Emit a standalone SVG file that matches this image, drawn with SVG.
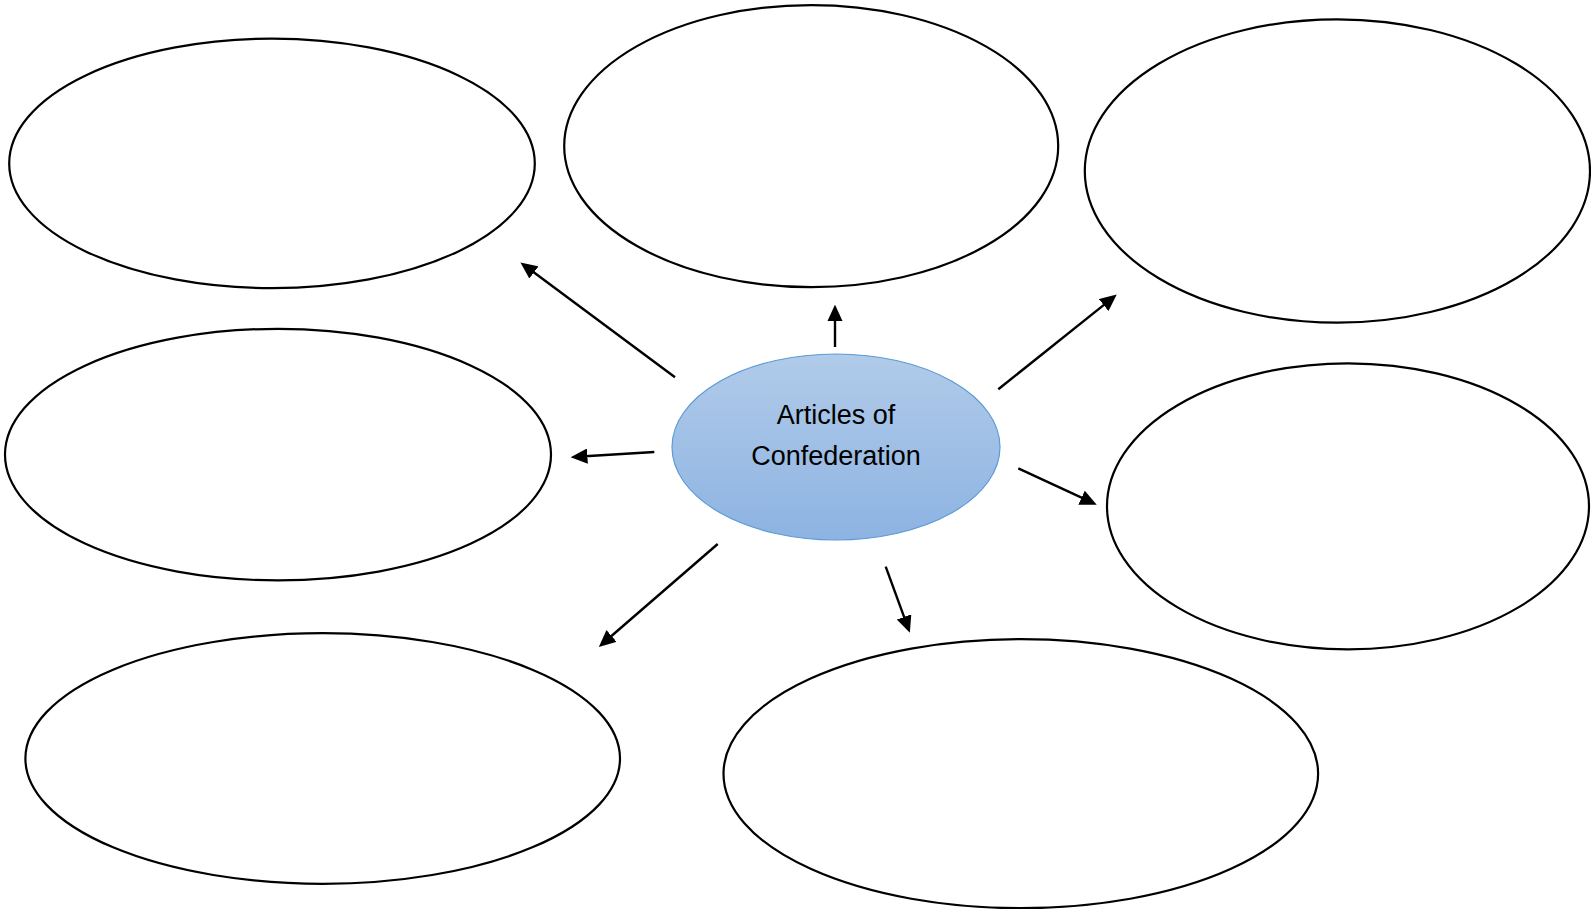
<svg xmlns="http://www.w3.org/2000/svg" width="1591" height="909" viewBox="0 0 1591 909">
<defs>
<linearGradient id="g" x1="0" y1="0" x2="0" y2="1">
<stop offset="0" stop-color="#b1cbe9"/>
<stop offset="1" stop-color="#8db3e2"/>
</linearGradient>
<marker id="ah" markerWidth="7" markerHeight="6.4" refX="1" refY="3.2" orient="auto" markerUnits="strokeWidth">
<path d="M0,0 L7,3.2 L0,6.4 Z" fill="#000"/>
</marker>
<style>
.n{fill:#fff;stroke:#000;stroke-width:2.2}
.c{fill:url(#g);stroke:#5b9bd5;stroke-width:1.2}
.e{stroke:#000;stroke-width:2.4;fill:none;marker-end:url(#ah)}
.t{font-family:"Liberation Sans",Arial,sans-serif;font-size:27px;fill:#000;text-anchor:middle}
</style>
</defs>
<rect width="1591" height="909" fill="#fff"/>
<g id="n1"><ellipse class="n" cx="272" cy="163.4" rx="262.8" ry="124.8"/></g>
<g id="n2"><ellipse class="n" cx="811.2" cy="146.1" rx="247" ry="141"/></g>
<g id="n3"><ellipse class="n" cx="1337.4" cy="171" rx="252.6" ry="151.7"/></g>
<g id="n4"><ellipse class="n" cx="278" cy="454.6" rx="273" ry="125.8"/></g>
<g id="n6"><ellipse class="n" cx="1348" cy="506.3" rx="241" ry="143"/></g>
<g id="n7"><ellipse class="n" cx="322.7" cy="758.5" rx="297.3" ry="125.3"/></g>
<g id="n8"><ellipse class="n" cx="1020.8" cy="773.7" rx="297.3" ry="134.5"/></g>
<g id="center">
<ellipse class="c" cx="836" cy="447" rx="164" ry="93"/>
<text class="t" x="836" y="424">Articles of</text>
<text class="t" x="836" y="465">Confederation</text>
</g>
<g id="connectors">
<line class="e" x1="675" y1="377.3" x2="532" y2="271"/>
<line class="e" x1="835" y1="347" x2="835" y2="319"/>
<line class="e" x1="998.3" y1="389.3" x2="1105.5" y2="303.6"/>
<line class="e" x1="654.3" y1="452" x2="585" y2="456.3"/>
<line class="e" x1="1018.3" y1="468.3" x2="1083.7" y2="498.7"/>
<line class="e" x1="717.7" y1="544" x2="609.7" y2="637.5"/>
<line class="e" x1="885.7" y1="566.7" x2="904.9" y2="619.2"/>
</g>
</svg>
